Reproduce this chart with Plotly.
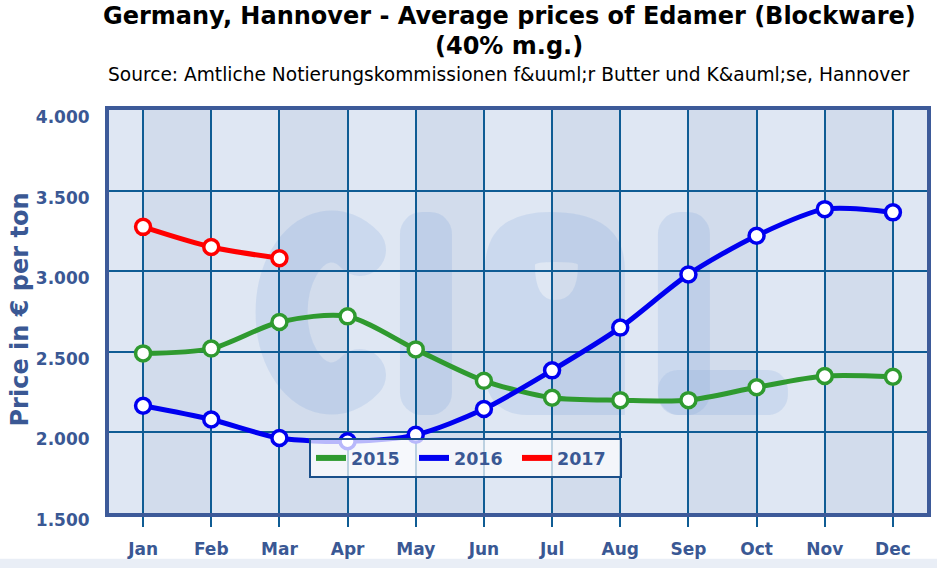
import base64
import plotly.graph_objects as go

months = ["Jan", "Feb", "Mar", "Apr", "May", "Jun", "Jul", "Aug", "Sep", "Oct", "Nov", "Dec"]
prices_2015 = [2490, 2520, 2685, 2720, 2515, 2320, 2215, 2200, 2200, 2280, 2350, 2345]
prices_2016 = [2165, 2080, 1965, 1945, 1985, 2145, 2385, 2650, 2980, 3220, 3385, 3365]
prices_2017 = [3275, 3150, 3080]
y_ticks = [1500, 2000, 2500, 3000, 3500, 4000]
y_tick_labels = ["1.500", "2.000", "2.500", "3.000", "3.500", "4.000"]

series = [
    ("2015", months, prices_2015, "#2f9a2f"),
    ("2016", months, prices_2016, "#0000f0"),
    ("2017", months[:len(prices_2017)], prices_2017, "#ff0000"),
]

LABEL = "#3a5894"
GRID = "#0f5c94"
FRAME = "#3d5a99"

fig = go.Figure()
for name, xs, ys, col in series:
    fig.add_trace(go.Scatter(
        x=xs, y=ys, mode="lines+markers", name=name, showlegend=False,
        line=dict(color=col, width=5, shape="spline", smoothing=0.8),
        marker=dict(size=15, color="white", line=dict(color=col, width=3.5)),
        hoverinfo="x+y",
    ))
for name, xs, ys, col in series:
    fig.add_trace(go.Scatter(
        x=[None], y=[None], mode="lines", name=name, showlegend=True,
        line=dict(color=col, width=6),
    ))

# alternating stripes
shapes = []
for i in range(0, len(months) - 1, 2):
    shapes.append(dict(type="rect", xref="x", yref="paper", x0=i, x1=i + 1, y0=0, y1=1,
                       fillcolor="rgba(30,80,150,0.065)", line=dict(width=0), layer="below"))
# bottom band
shapes.append(dict(type="rect", xref="paper", yref="paper", x0=-0.3, x1=1.2, y0=-0.2, y1=-0.1135,
                   fillcolor="#e9eef6", line=dict(width=0), layer="below"))

# faint "clal" logo watermark
svg = ('<svg xmlns="http://www.w3.org/2000/svg" width="540" height="205" viewBox="0 0 540 205">'
       '<g fill="rgb(150,180,225)" fill-opacity="0.27" stroke="none">'
       '<path d="M110,40 A50,76 0 1,0 110,165" fill="none" stroke="rgb(150,180,225)" '
       'stroke-opacity="0.27" stroke-width="52" stroke-linecap="round"/>'
       '<rect x="150" y="2" width="52" height="203" rx="22"/>'
       '<path fill-rule="evenodd" d="M235,60 Q235,2 300,2 Q375,2 375,60 L375,205 L280,205 Q235,205 235,160 Z '
       'M285,55 Q285,90 305,90 Q328,90 328,55 Q328,52 305,52 Q285,52 285,55 Z"/>'
       '<rect x="408" y="2" width="52" height="203" rx="22"/>'
       '<rect x="408" y="160" width="130" height="45" rx="20"/>'
       '</g></svg>')
src = "data:image/svg+xml;base64," + base64.b64encode(svg.encode()).decode()

fig.update_layout(
    width=937, height=568,
    margin=dict(l=109, r=10, t=110, b=55),
    paper_bgcolor="white",
    plot_bgcolor="#dfe7f3",
    shapes=shapes,
    images=[dict(source=src, xref="paper", yref="paper", x=0.1724, y=0.752, sizex=0.660, sizey=0.509,
                 sizing="stretch", xanchor="left", yanchor="top", layer="below")],
    font=dict(family="DejaVu Sans", color=LABEL),
    showlegend=True,
    legend=dict(orientation="h", x=0.2445, y=0.186, xanchor="left", yanchor="top",
                bgcolor="rgba(255,255,255,0.72)", bordercolor="#1a4f8a", borderwidth=2,
                font=dict(family="DejaVu Sans", size=17.5, color=LABEL, weight="bold"),
                entrywidth=58, entrywidthmode="pixels", tracegroupgap=0),
    xaxis=dict(
        type="category", categoryorder="array", categoryarray=months,
        range=[-0.5, len(months) - 0.5],
        showgrid=True, gridcolor=GRID, gridwidth=2,
        showline=True, linecolor=FRAME, linewidth=4, mirror=True,
        ticks="outside", ticklen=10, tickwidth=2, tickcolor=GRID,
        tickfont=dict(family="DejaVu Sans", size=17, color=LABEL, weight="bold"),
        ticklabelstandoff=8, automargin=False,
        zeroline=False,
    ),
    yaxis=dict(
        range=[1500, 4000], tickvals=y_ticks, ticktext=y_tick_labels,
        showgrid=True, gridcolor=GRID, gridwidth=2,
        showline=True, linecolor=FRAME, linewidth=4, mirror=True,
        ticks="", ticklabelstandoff=12, ticklabelshift=7, automargin=False,
        tickfont=dict(family="DejaVu Sans", size=17, color=LABEL, weight="bold"),
        zeroline=False,
    ),
    annotations=[
        dict(text="Price in € per ton", textangle=-90, xref="paper", yref="paper",
             x=-0.1076, y=0.505, xanchor="center", yanchor="middle", showarrow=False,
             font=dict(family="DejaVu Sans", size=24, color=LABEL, weight="bold")),
        dict(text="Germany, Hannover - Average prices of Edamer (Blockware)", xref="paper", yref="paper",
             x=0.489, y=1.233, xanchor="center", yanchor="middle", showarrow=False,
             font=dict(family="DejaVu Sans", size=24, color="black", weight="bold")),
        dict(text="(40% m.g.)", xref="paper", yref="paper",
             x=0.489, y=1.159, xanchor="center", yanchor="middle", showarrow=False,
             font=dict(family="DejaVu Sans", size=24, color="black", weight="bold")),
        dict(text="Source: Amtliche Notierungskommissionen f&uuml;r Butter und K&auml;se, Hannover",
             xref="paper", yref="paper",
             x=0.489, y=1.087, xanchor="center", yanchor="middle", showarrow=False,
             font=dict(family="DejaVu Sans", size=18.6, color="black")),
    ],
)

fig.write_html("out.html")
